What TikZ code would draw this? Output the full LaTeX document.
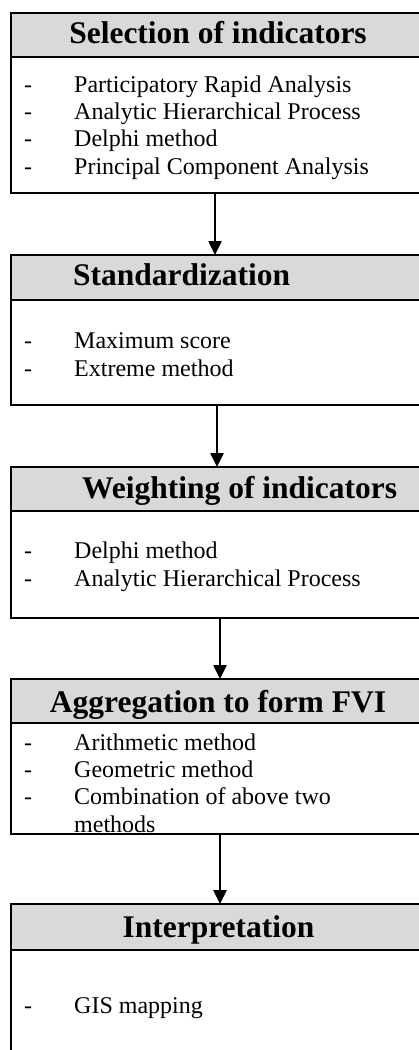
\documentclass[tikz,border=0pt]{standalone}
\usepackage{fontspec}
\setmainfont{Liberation Serif}
\usetikzlibrary{positioning}
\usetikzlibrary{arrows.meta}
\definecolor{hdgray}{HTML}{D9D9D9}
\tikzset{hd/.style={draw,rectangle,line width=2pt,fill=hdgray,minimum width=418pt,anchor=north west,inner sep=0pt,outer sep=0pt}}
\tikzset{bd/.style={draw,rectangle,line width=2pt,fill=white,minimum width=418pt,inner sep=0pt,outer sep=0pt}}
\tikzset{hdtxt/.style={font=\fontsize{31.5}{34}\selectfont\bfseries,inner sep=0pt,anchor=base}}
\tikzset{itm/.style={font=\fontsize{24}{27.3}\selectfont,inner sep=0pt,anchor=base west,align=left}}
\tikzset{flow/.style={line width=2.5pt,-{Triangle[width=13pt,length=14pt]}}}
\newcommand{\dashitem}[1]{\makebox[50pt][l]{-}#1}

\begin{document}
\begin{tikzpicture}[x=1pt,y=-1pt]
      \useasboundingbox (0,0) rectangle (419,1050);
      \clip (0,0) rectangle (419,1050);
      % stage boxes
      \node [hd, minimum height=44pt] (h1) at (11,13) {};
      \node [bd, minimum height=136pt, below=0pt of h1] (b1) {};
      \node [hd, minimum height=45pt] (h2) at (11,255) {};
      \node [bd, minimum height=105pt, below=0pt of h2] (b2) {};
      \node [hd, minimum height=44pt] (h3) at (11,467) {};
      \node [bd, minimum height=107pt, below=0pt of h3] (b3) {};
      \node [hd, minimum height=44pt] (h4) at (11,679) {};
      \node [bd, minimum height=111pt, below=0pt of h4] (b4) {};
      \node [hd, minimum height=46pt] (h5) at (11,904) {};
      \node [bd, minimum height=160pt, below=0pt of h5] (b5) {};
      % titles
      \node [hdtxt] (t1) at (218,43) {Selection of indicators};
      \node [hdtxt, anchor=base west] (t2) at (73,285) {Standardization};
      \node [hdtxt, anchor=base west] (t3) at (82,498) {Weighting of indicators};
      \node [hdtxt] (t4) at (218,712) {Aggregation to form FVI};
      \node [hdtxt] (t5) at (218.5,937) {Interpretation};
      % methods (anchored on the last line)
      \node [itm] (l1) at (24,174) {\dashitem{Participatory Rapid Analysis}\\ \dashitem{Analytic Hierarchical Process}\\ \dashitem{Delphi method}\\ \dashitem{Principal Component Analysis}};
      \node [itm] (l2) at (24,376) {\dashitem{Maximum score}\\ \dashitem{Extreme method}};
      \node [itm] (l3) at (24,586) {\dashitem{Delphi method}\\ \dashitem{Analytic Hierarchical Process}};
      \node [itm] (l4) at (24,832) {\dashitem{Arithmetic method}\\ \dashitem{Geometric method}\\ \dashitem{Combination of above two}\\ \hspace*{50pt}methods};
      \node [itm] (l5) at (24,1013) {\dashitem{GIS mapping}};
      % arrows
      \draw [flow] ([xshift=-5pt]b1.south) -- ([xshift=-5pt]h2.north);
      \draw [flow] ([xshift=-3pt]b2.south) -- ([xshift=-3pt]h3.north);
      \draw [flow] (b3.south) -- (h4.north);
      \draw [flow] (b4.south) -- (h5.north);
    \end{tikzpicture}
\end{document}
